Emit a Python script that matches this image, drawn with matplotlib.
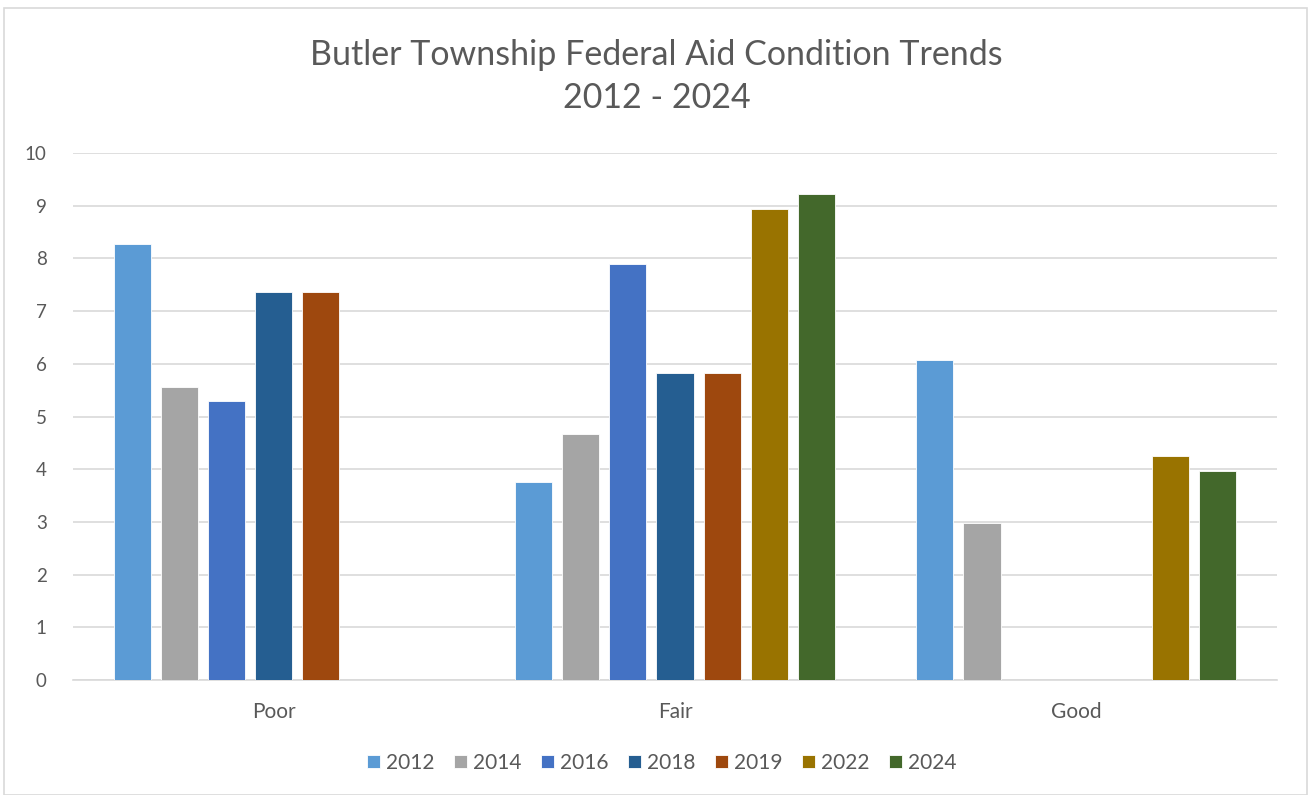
import matplotlib
matplotlib.use("Agg")
import matplotlib.pyplot as plt
import numpy as np
from matplotlib.patches import Rectangle

categories = ["Poor", "Fair", "Good"]
years = ["2012", "2014", "2016", "2018", "2019", "2022", "2024"]
v2012 = [8.27, 3.76, 6.07]
v2014 = [5.56, 4.67, 2.98]
v2016 = [5.29, 7.89, 0]
v2018 = [7.36, 5.83, 0]
v2019 = [7.36, 5.83, 0]
v2022 = [0, 8.94, 4.25]
v2024 = [0, 9.22, 3.97]
series = [v2012, v2014, v2016, v2018, v2019, v2022, v2024]
colors = ["#5B9BD5", "#A5A5A5", "#4472C4", "#255E91", "#9E480E", "#997300", "#43682B"]

plt.rcParams['font.family'] = ['Lato', 'DejaVu Sans']
fig = plt.figure(figsize=(13.13, 7.95), dpi=100)
fig.patch.set_facecolor("white")
fig.add_artist(Rectangle((4/1313, 0), 1303/1313, 1 - 8/795, transform=fig.transFigure,
                         fill=False, edgecolor="#D9D9D9", linewidth=1.2))

ax = fig.add_axes([73/1313, 1 - 680/795, (1277-73)/1313, (680-153)/795])
x = np.arange(len(categories))
step = 0.1175
width = 0.0925
for i, (vals, c, yr) in enumerate(zip(series, colors, years)):
    offs = (i - 3) * step
    ax.bar(x + offs, vals, width, color=c, label=yr, edgecolor="white", linewidth=0.6, zorder=3)

ax.set_xlim(-0.5, 2.5)
ax.set_ylim(0, 10)
ax.set_yticks(range(0, 11))
ax.yaxis.grid(True, color="#D9D9D9", linewidth=1.2, zorder=0)
ax.set_xticks(x)
ax.set_xticklabels(categories)
for s in ["top", "right", "left"]:
    ax.spines[s].set_visible(False)
ax.spines["bottom"].set_color("#D9D9D9")
ax.spines["bottom"].set_linewidth(1.2)
ax.tick_params(axis="both", length=0, colors="#595959")
ax.tick_params(axis="x", pad=16, labelsize=15)
ax.tick_params(axis="y", pad=19, labelsize=13.5)
for lab in ax.get_yticklabels():
    lab.set_horizontalalignment("right")

fig.text(0.5, 1 - 55/795, "Butler Township Federal Aid Condition Trends", ha="center", va="center",
         fontsize=24.5, color="#595959")
fig.text(0.5, 1 - 98/795, "2012 - 2024", ha="center", va="center", fontsize=24.5, color="#595959")

handles, labels = ax.get_legend_handles_labels()
fig.legend(handles, labels, loc="center", bbox_to_anchor=(662/1313, 1 - 763/795), ncol=7,
           frameon=False, fontsize=15, labelcolor="#595959", handlelength=0.6, handleheight=0.6,
           handletextpad=0.3, columnspacing=0.95)

fig.savefig("out.png", dpi=100, facecolor="white")
